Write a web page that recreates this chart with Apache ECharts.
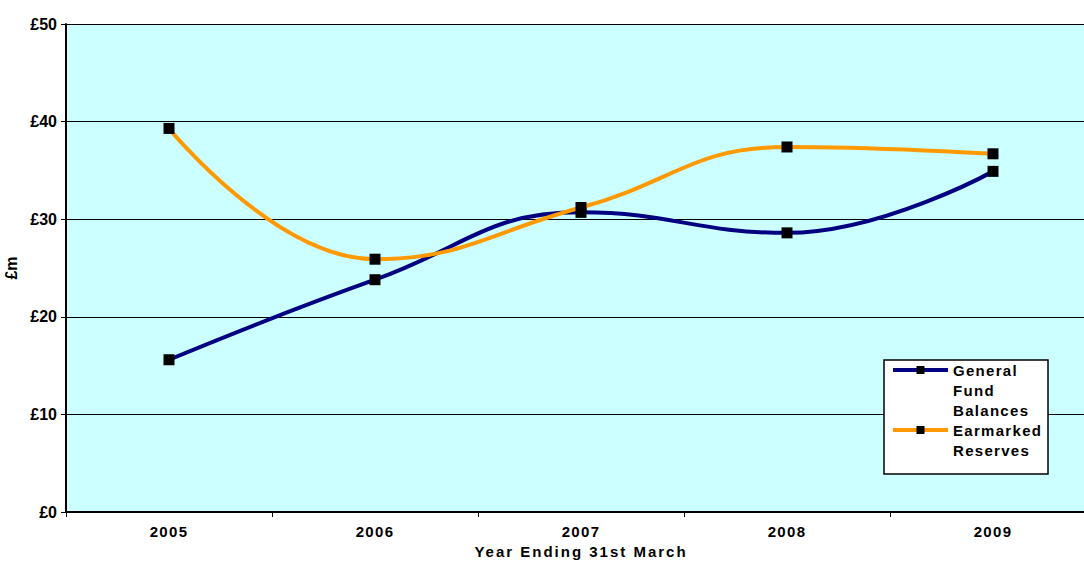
<!DOCTYPE html>
<html>
<head>
<meta charset="utf-8">
<script src="https://cdn.jsdelivr.net/npm/echarts@6/dist/echarts.min.js"></script>
<style>
  html, body { margin: 0; padding: 0; background: #fff; }
  #chart { width: 1084px; height: 561px; }
</style>
</head>
<body>
<div id="chart"></div>
<script>
// Year-end balances, £m
const years = ['2005', '2006', '2007', '2008', '2009'];
const generalFund = [15.6, 23.8, 30.7, 28.6, 34.9];
const earmarked = [39.3, 25.9, 31.2, 37.4, 36.7];
const yTicks = { min: 0, max: 50, interval: 10 };

const FONT = '"Liberation Sans", Arial, sans-serif';
const AXIS_TITLE = 'Year Ending 31st March';

const chart = echarts.init(document.getElementById('chart'), null, { renderer: 'svg' });

chart.setOption({
  animation: false,
  backgroundColor: '#ffffff',
  grid: {
    left: 66, top: 24, width: 1030, bottom: 49,
    outerBoundsMode: 'none',
    containLabel: false,
    show: true,
    backgroundColor: '#ccffff',
    borderWidth: 0
  },
  xAxis: {
    type: 'category',
    data: years,
    boundaryGap: true,
    name: AXIS_TITLE,
    nameLocation: 'middle',
    nameGap: 24,
    nameTextStyle: { fontFamily: FONT, fontWeight: 'bold', fontSize: 15, color: '#000' },
    axisLine: { lineStyle: { color: '#000', width: 2 } },
    axisTick: { show: true, length: 5, lineStyle: { color: '#000', width: 1 } },
    axisLabel: { fontFamily: FONT, fontWeight: 'bold', fontSize: 15, color: '#000', margin: 12 },
    splitLine: { show: false }
  },
  yAxis: {
    type: 'value',
    min: yTicks.min,
    max: yTicks.max,
    interval: yTicks.interval,
    name: '£m',
    nameLocation: 'middle',
    nameGap: 42,
    nameRotate: 90,
    nameTextStyle: { fontFamily: FONT, fontWeight: 'bold', fontSize: 16, color: '#000' },
    axisLine: { show: true, lineStyle: { color: '#000', width: 2 } },
    axisTick: { show: true, length: 5, lineStyle: { color: '#000', width: 1 } },
    axisLabel: {
      fontFamily: FONT, fontWeight: 'bold', fontSize: 16, color: '#000', margin: 9,
      formatter: v => '£' + v
    },
    splitLine: { show: true, lineStyle: { color: '#000', width: 1 } }
  },
  graphic: [{
    type: 'rect',
    z: 50,
    shape: { x: 884, y: 360, width: 164, height: 114 },
    style: { fill: '#ffffff', stroke: '#000', lineWidth: 1.5 }
  }],
  legend: {
    orient: 'vertical',
    left: 891,
    top: 320,
    z: 60,
    itemWidth: 55,
    itemHeight: 10,
    itemGap: -20,
    padding: 0,
    lineStyle: { width: 4 },
    textStyle: {
      fontFamily: FONT, fontWeight: 'bold', fontSize: 15, color: '#000', lineHeight: 20
    },
    // empty lines above keep the key aligned with the first line of each name
    formatter: name => name === 'General Fund Balances'
      ? '\n\nGeneral\nFund\nBalances'
      : '\nEarmarked\nReserves',
    data: ['General Fund Balances', 'Earmarked Reserves']
  },
  series: [
    {
      name: 'General Fund Balances',
      type: 'line',
      data: generalFund,
      smooth: 0.45,
      symbol: 'rect',
      symbolSize: 11,
      itemStyle: { color: '#000000' },
      lineStyle: { color: '#000080', width: 4 },
      z: 3
    },
    {
      name: 'Earmarked Reserves',
      type: 'line',
      data: earmarked,
      smooth: 0.45,
      symbol: 'rect',
      symbolSize: 11,
      itemStyle: { color: '#000000' },
      lineStyle: { color: '#ff9900', width: 4 },
      z: 4
    }
  ]
});

// widen the tracking of the axis title, year labels and legend names
const legendWords = ['General', 'Fund', 'Balances', 'Earmarked', 'Reserves'];
document.querySelectorAll('#chart svg text').forEach(t => {
  const s = t.textContent;
  if (s === AXIS_TITLE) {
    t.setAttribute('letter-spacing', '2px');
  } else if (years.indexOf(s) >= 0) {
    t.setAttribute('letter-spacing', '1.3px');
  } else if (legendWords.some(w => s.indexOf(w) >= 0)) {
    t.setAttribute('letter-spacing', '1.3px');
  }
});
</script>
</body>
</html>
